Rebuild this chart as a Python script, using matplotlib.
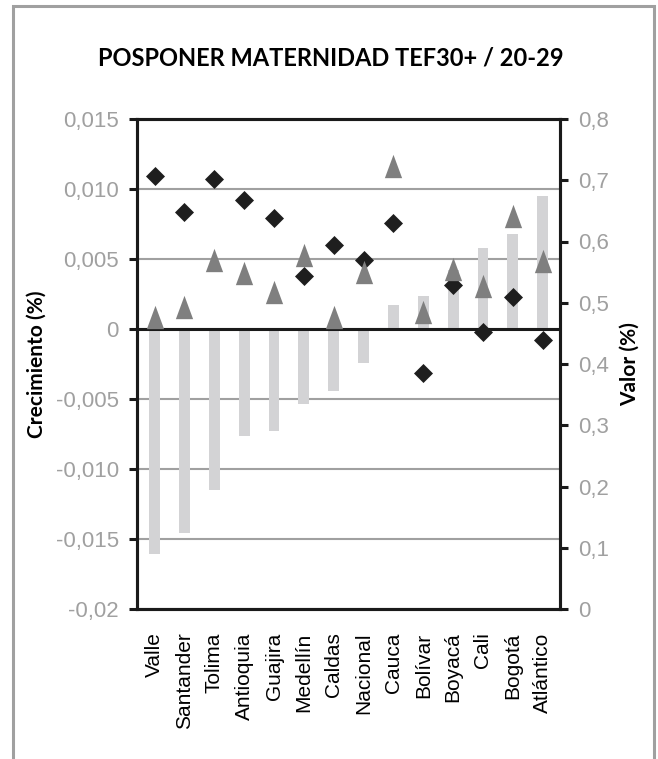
import numpy as np
import matplotlib.pyplot as plt
from matplotlib.patches import Rectangle
from matplotlib.path import Path

# data
regiones = ['Valle', 'Santander', 'Tolima', 'Antioquia', 'Guajira', 'Medellín', 'Caldas',
            'Nacional', 'Cauca', 'Bolívar', 'Boyacá', 'Cali', 'Bogotá', 'Atlántico']
crecimiento = [-0.0161, -0.01455, -0.0115, -0.00764, -0.00726, -0.00533, -0.00443,
               -0.0024, 0.00171, 0.00236, 0.0042, 0.0058, 0.00679, 0.0095]
valor_a = [0.7075, 0.648, 0.7015, 0.668, 0.638, 0.544, 0.595,
           0.569, 0.630, 0.385, 0.529, 0.453, 0.509, 0.440]   # diamonds
valor_b = [0.477, 0.493, 0.570, 0.549, 0.517, 0.578, 0.477,
           0.550, 0.723, 0.485, 0.555, 0.527, 0.642, 0.568]   # triangles

left_ticks = [0.015, 0.010, 0.005, 0, -0.005, -0.010, -0.015, -0.02]
left_labels = ['0,015', '0,010', '0,005', '0', '-0,005', '-0,010', '-0,015', '-0,02']
right_ticks = [0.8, 0.7, 0.6, 0.5, 0.4, 0.3, 0.2, 0.1, 0]
right_labels = ['0,8', '0,7', '0,6', '0,5', '0,4', '0,3', '0,2', '0,1', '0']

plt.rcParams['font.family'] = ['Liberation Sans', 'DejaVu Sans']

fig = plt.figure(figsize=(6.58, 7.59), dpi=100)
# outer frame (open at the bottom, cut by the image edge)
fig.patches.append(Rectangle((12.5 / 658, -0.05), (653.5 - 12.5) / 658, 1 - 5.5 / 759 + 0.05,
                             transform=fig.transFigure, fill=False, edgecolor='#a0a0a0', lw=2.2))

ax = fig.add_axes([136.7 / 658, 1 - 609 / 759, (560 - 136.7) / 658, 490 / 759])
x = np.arange(len(regiones))

ax.set_axisbelow(True)
ax.grid(axis='y', color='#a0a0a0', lw=1.5)
ax.bar(x, crecimiento, width=0.36, color='#d3d3d5', zorder=2)
ax.axhline(0, color='#1a1a1a', lw=2.2, zorder=3)
ax.set_xlim(-0.6, 13.58)
ax.set_ylim(-0.02, 0.015)
ax.set_yticks(left_ticks)
ax.set_yticklabels(left_labels)
ax.set_xticks(x)
ax.set_xticklabels(regiones, rotation=90, fontsize=15)
ax.tick_params(axis='x', length=0, pad=17)
ax.tick_params(axis='y', length=6, width=2.2, color='#1a1a1a', labelsize=16, labelcolor='#a0a0a0', pad=7)
for s in ax.spines.values():
    s.set_color('#1a1a1a')
    s.set_linewidth(2.2)

ax2 = ax.twinx()
ax2.set_ylim(0, 0.8)
ax2.set_yticks(right_ticks)
ax2.set_yticklabels(right_labels)
ax2.tick_params(axis='y', length=6, width=2.2, color='#1a1a1a', labelsize=16, labelcolor='#a0a0a0', pad=7)
for s in ax2.spines.values():
    s.set_color('#1a1a1a')
    s.set_linewidth(2.2)

diamante = Path([(0, 1), (1, 0), (0, -1), (-1, 0), (0, 1)])
triangulo = Path([(0, 1), (-0.74, -1), (0.74, -1), (0, 1)])
ax2.plot(x, valor_a, linestyle='none', marker=diamante, markersize=13.7,
         color='#1e1e1e', markeredgewidth=0, zorder=4)
ax2.plot(x, valor_b, linestyle='none', marker=triangulo, markersize=16.8,
         color='#7f7f7f', markeredgewidth=0, zorder=5)

fig.text(331 / 658, 1 - 58 / 759, 'POSPONER MATERNIDAD TEF30+ / 20-29', ha='center', va='center',
         fontsize=17, fontweight='bold', family='Lato')
fig.text(37 / 658, 1 - 364 / 759, 'Crecimiento (%)', rotation=90, ha='center', va='center',
         fontsize=15, fontweight='bold', family='Lato')
fig.text(630 / 658, 1 - 364 / 759, 'Valor (%)', rotation=90, ha='center', va='center',
         fontsize=15, fontweight='bold', family='Lato')

fig.savefig('out.png', dpi=100)
